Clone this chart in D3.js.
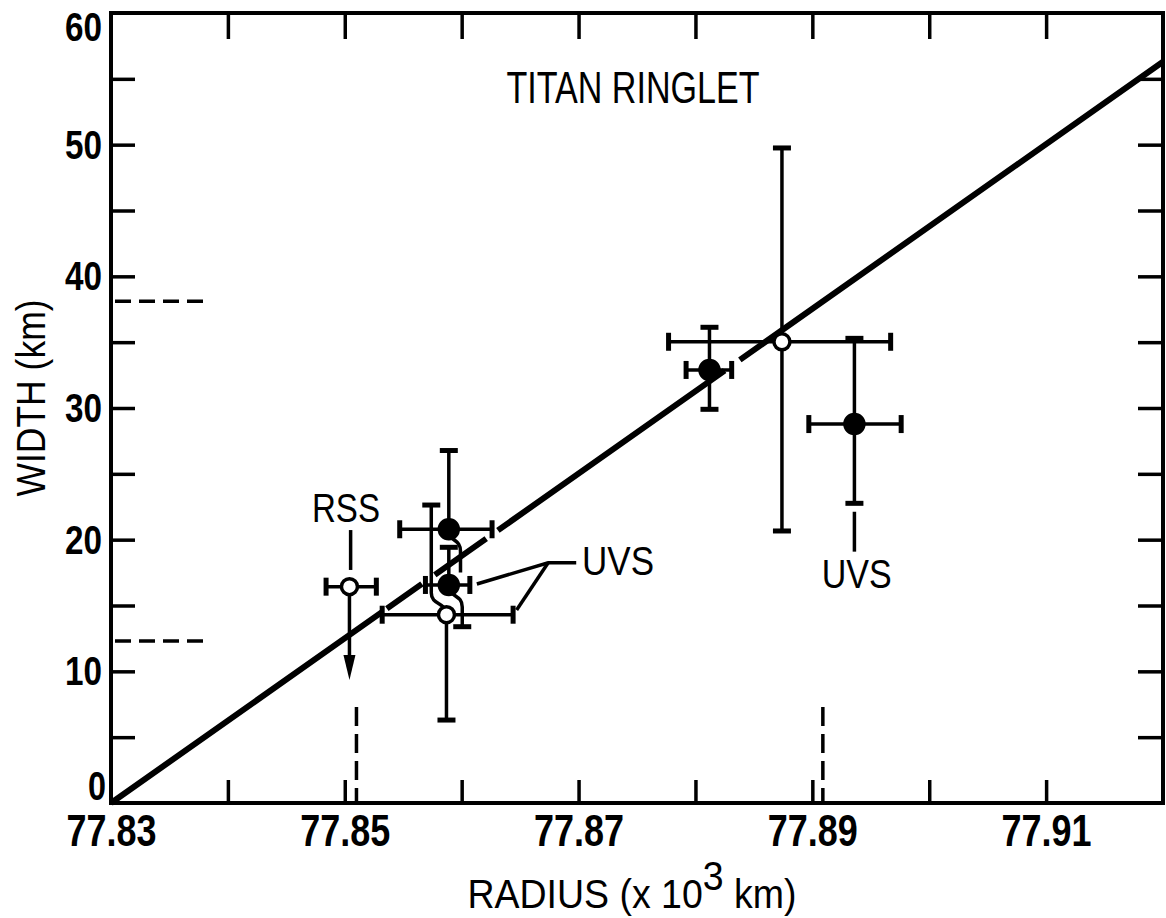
<!doctype html>
<html>
<head>
<script src="https://cdnjs.cloudflare.com/ajax/libs/d3/7.8.5/d3.min.js"></script>
<style>
  body { margin: 0; background: #fff; }
  svg { font-family: "Liberation Sans", "DejaVu Sans", sans-serif; }
  .axis path.domain { stroke: none; }
  .axis line { stroke: #000; stroke-width: 3.5; }
  .axis text { fill: #000; font-weight: bold; }
  .xlab text { font-size: 44px; }
  .ylab text { font-size: 40px; }
  .bar { stroke: #000; stroke-width: 3.5; fill: none; }
  .cap { stroke: #000; stroke-width: 5; }
  .note { font-size: 40px; fill: #000; }
</style>
</head>
<body>
<svg width="1166" height="918"></svg>
<script>
// axis ticks and labels
const radiusTicks = [77.84, 77.85, 77.86, 77.87, 77.88, 77.89, 77.90, 77.91];
const radiusLabels = [77.83, 77.85, 77.87, 77.89, 77.91];
const widthTicks = [5, 10, 15, 20, 25, 30, 35, 40, 45, 50, 55];
const widthLabels = [0, 10, 20, 30, 40, 50, 60];

// measurements (radius in 10^3 km, width in km)
const pointRadius = [77.8504, 77.8589, 77.8589, 77.8587, 77.8812, 77.8874, 77.8936];
const pointWidth  = [16.43, 20.79, 16.56, 14.30, 32.89, 35.03, 28.78];
const pointFilled = [false, true, true, false, true, false, true];
const radiusLo    = [77.8484, 77.8547, 77.8569, 77.8532, 77.8792, 77.8777, 77.8897];
const radiusHi    = [77.8527, 77.8626, 77.8607, 77.8644, 77.8831, 77.8967, 77.8976];
const widthHi     = [null, 26.77, 19.42, 22.63, 36.13, 49.75, 35.29];
const widthLo     = [9.35, 17.5, 13.39, 6.30, 29.90, 20.66, 22.76];
const loCapped    = [false, false, true, true, true, true, true];
const upperLimit  = [true, false, false, false, false, false, false];
// whiskers drawn sideways to keep the crowded group readable (radius shift)
const upShift     = [0, 0, 0, -0.0013, 0, 0, 0];
const downShift   = [0, 0.0010, 0.00115, 0, 0, 0, 0];

// least squares fit line and where the draughtsman broke it
const fitRadius = [77.83, 77.92];
const fitWidth  = [0, 56.3];
const fitGaps   = [[77.8532, 77.8536], [77.8566, 77.8577], [77.8621, 77.8631], [77.8825, 77.8838]];

// dashed reference marks
const refWidths = [38.1, 12.3];
const refWidthEnd = 77.8384;
const refRadii = [77.8510, 77.8909];
const refRadiusTop = 7.3;

// labels and leader lines
const notes = [
  {text: "RSS", r: 77.8501, w: 21.36, anchor: "middle", len: 68},
  {text: "UVS", r: 77.8703, w: 17.32, anchor: "start", len: 72},
  {text: "UVS", r: 77.8938, w: 16.30, anchor: "middle", len: 70}
];
const leaders = [
  [[77.8505, 17.7], [77.8505, 20.73]],
  [[77.8936, 19.09], [77.8936, 22.12]],
  [[77.8698, 18.25], [77.8674, 18.25], [77.8613, 16.63]],
  [[77.8674, 18.25], [77.8647, 14.66]]
];

const svg = d3.select("svg");
const x = d3.scaleLinear().domain([77.83, 77.92]).range([111, 1163]);
const y = d3.scaleLinear().domain([0, 60]).range([803, 13]);

// ticks on all four sides, pointing inward
svg.append("g").attr("class", "axis").attr("transform", `translate(0,${y(0)})`)
  .call(d3.axisBottom(x).tickValues(radiusTicks).tickSizeInner(-23).tickSizeOuter(0).tickFormat(""));
svg.append("g").attr("class", "axis").attr("transform", `translate(0,${y(60)})`)
  .call(d3.axisTop(x).tickValues(radiusTicks).tickSizeInner(-26).tickSizeOuter(0).tickFormat(""));
svg.append("g").attr("class", "axis").attr("transform", `translate(${x(77.83)},0)`)
  .call(d3.axisLeft(y).tickValues(widthTicks).tickSizeInner(-24).tickSizeOuter(0).tickFormat(""));
svg.append("g").attr("class", "axis").attr("transform", `translate(${x(77.92)},0)`)
  .call(d3.axisRight(y).tickValues(widthTicks).tickSizeInner(-25).tickSizeOuter(0).tickFormat(""));

// tick labels (narrow lettering)
svg.append("g").attr("class", "axis xlab").attr("transform", `translate(0,${y(0)})`)
  .call(d3.axisBottom(x).tickValues(radiusLabels).tickSize(0).tickPadding(12).tickFormat(d3.format(".2f")))
  .selectAll(".tick text")
  .attr("textLength", 90).attr("lengthAdjust", "spacingAndGlyphs");
const ylab = svg.append("g").attr("class", "axis ylab").attr("transform", `translate(${x(77.83)},0)`)
  .call(d3.axisLeft(y).tickValues(widthLabels).tickSize(0).tickPadding(9).tickFormat(d3.format("d")));
ylab.selectAll(".tick text")
  .attr("dy", d => d === 60 ? "0.68em" : d === 0 ? "-0.08em" : "0.34em")
  .attr("x", d => d === 0 ? -5 : -9)
  .attr("textLength", d => d === 0 ? 18 : 37)
  .attr("lengthAdjust", "spacingAndGlyphs");

// frame
svg.append("rect")
  .attr("x", x(77.83)).attr("y", y(60))
  .attr("width", x(77.92) - x(77.83)).attr("height", y(0) - y(60))
  .attr("fill", "none").attr("stroke", "#000").attr("stroke-width", 4);

// dashed reference marks
svg.selectAll("line.refw").data(refWidths).enter().append("line")
  .attr("class", "refw")
  .attr("x1", x(77.83) + 4).attr("x2", x(refWidthEnd))
  .attr("y1", d => y(d)).attr("y2", d => y(d))
  .attr("stroke", "#000").attr("stroke-width", 3.5).attr("stroke-dasharray", "16,8");
svg.selectAll("line.refr").data(refRadii).enter().append("line")
  .attr("class", "refr")
  .attr("x1", d => x(d)).attr("x2", d => x(d))
  .attr("y1", y(refRadiusTop)).attr("y2", y(0))
  .attr("stroke", "#000").attr("stroke-width", 3.5).attr("stroke-dasharray", "19,8");

// fit line, broken where it crosses the error bars
const fx0 = x(fitRadius[0]), fy0 = y(fitWidth[0]), fx1 = x(fitRadius[1]), fy1 = y(fitWidth[1]);
const fitLen = Math.hypot(fx1 - fx0, fy1 - fy0);
const frac = r => (r - fitRadius[0]) / (fitRadius[1] - fitRadius[0]) * fitLen;
const dash = [];
let pos = 0;
fitGaps.forEach(g => {
  dash.push(frac(g[0]) - pos, frac(g[1]) - frac(g[0]));
  pos = frac(g[1]);
});
dash.push(fitLen - pos + 10, 0);
svg.append("path")
  .attr("d", d3.line()([[fx0, fy0], [fx1, fy1]]))
  .attr("stroke", "#000").attr("stroke-width", 6).attr("fill", "none")
  .attr("stroke-dasharray", dash.join(","));

// error bars
const cap = 9;
const bars = svg.append("g");
pointRadius.forEach((r, i) => {
  const cx = x(r), cy = y(pointWidth[i]);
  // horizontal
  const xl = x(radiusLo[i]), xh = x(radiusHi[i]);
  bars.append("line").attr("class", "bar").attr("x1", xl).attr("x2", xh).attr("y1", cy).attr("y2", cy);
  [xl, xh].forEach(xx => bars.append("line").attr("class", "cap")
    .attr("x1", xx).attr("x2", xx).attr("y1", cy - cap).attr("y2", cy + cap));

  // vertical, optionally bent sideways
  const whisker = (w, shift, dir, capped) => {
    const wx = x(r + shift), wy = y(w);
    let d;
    if (shift === 0) d = `M${cx},${cy}V${wy}`;
    else {
      const k = 22 * dir;
      d = `M${cx},${cy}C${cx},${cy + k * 0.6} ${wx},${cy + k * 0.4} ${wx},${cy + k}V${wy}`;
    }
    bars.append("path").attr("class", "bar").attr("d", d);
    if (capped) bars.append("line").attr("class", "cap")
      .attr("x1", wx - cap).attr("x2", wx + cap).attr("y1", wy).attr("y2", wy);
  };
  if (widthHi[i] !== null) whisker(widthHi[i], upShift[i], -1, true);
  if (upperLimit[i]) {
    const ay = y(widthLo[i]);
    bars.append("line").attr("class", "bar").attr("x1", cx).attr("x2", cx).attr("y1", cy).attr("y2", ay - 20);
    bars.append("path").attr("d", `M${cx - 6},${ay - 25}L${cx + 6},${ay - 25}L${cx},${ay}Z`).attr("fill", "#000");
  } else {
    whisker(widthLo[i], downShift[i], 1, loCapped[i]);
  }
});

// points
svg.selectAll("circle.pt").data(pointRadius).enter().append("circle")
  .attr("class", "pt")
  .attr("cx", d => x(d))
  .attr("cy", (d, i) => y(pointWidth[i]))
  .attr("r", (d, i) => pointFilled[i] ? 9.5 : 8)
  .attr("fill", (d, i) => pointFilled[i] ? "#000" : "#fff")
  .attr("stroke", "#000").attr("stroke-width", 3.5);

// leader lines and labels
const lead = d3.line().x(d => x(d[0])).y(d => y(d[1]));
svg.selectAll("path.lead").data(leaders).enter().append("path")
  .attr("class", "lead").attr("d", lead)
  .attr("stroke", "#000").attr("stroke-width", 3.5).attr("fill", "none");
svg.selectAll("text.note").data(notes).enter().append("text")
  .attr("class", "note")
  .attr("x", d => x(d.r)).attr("y", d => y(d.w))
  .attr("text-anchor", d => d.anchor)
  .attr("textLength", d => d.len).attr("lengthAdjust", "spacingAndGlyphs")
  .text(d => d.text);

// titles
svg.append("text").attr("x", 633).attr("y", 103).attr("text-anchor", "middle")
  .attr("font-size", 44).attr("textLength", 253).attr("lengthAdjust", "spacingAndGlyphs")
  .text("TITAN RINGLET");
svg.append("text").attr("transform", "translate(45,398) rotate(-90)").attr("text-anchor", "middle")
  .attr("font-size", 41).attr("textLength", 197).attr("lengthAdjust", "spacingAndGlyphs")
  .text("WIDTH (km)");
const xt = svg.append("text").attr("x", 632).attr("y", 908).attr("text-anchor", "middle").attr("font-size", 41)
  .attr("textLength", 329).attr("lengthAdjust", "spacingAndGlyphs");
xt.append("tspan").text("RADIUS (x 10");
xt.append("tspan").attr("dy", -18).text("3");
xt.append("tspan").attr("dy", 18).text(" km)");
</script>
</body>
</html>
